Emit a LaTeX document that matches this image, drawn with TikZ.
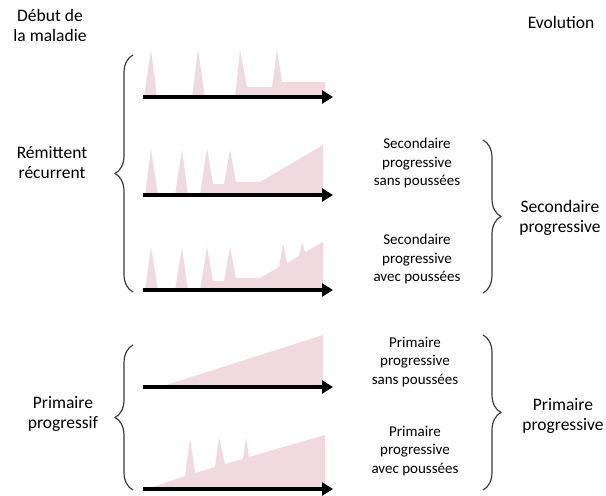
\documentclass[tikz,border=0pt]{standalone}
\usepackage{fontspec}
\setmainfont{Carlito}
\usetikzlibrary{arrows.meta,decorations.pathreplacing}
\definecolor{pinkfill}{RGB}{240,218,224}
\definecolor{bracegray}{RGB}{60,60,60}
\tikzset{
  bigtxt/.style={align=center,font=\fontsize{17.5}{20}\selectfont,inner sep=0pt},
  smalltxt/.style={align=center,font=\fontsize{15}{18.5}\selectfont,inner sep=0pt},
  timeaxis/.style={line width=4pt,-{Triangle[length=11pt,width=13pt]}},
  course/.style={fill=pinkfill,draw=none},
  lbrace/.style={draw=bracegray,line width=1.2pt,decorate,decoration={brace,amplitude=18pt,aspect=0.5}},
}
\begin{document}
\begin{tikzpicture}[x=1pt,y=-1pt]
\useasboundingbox (0,0) rectangle (606,496);
% headers
\node[bigtxt] (debut) at (50,25) {Début de\\la maladie};
\node[bigtxt] (evol) at (561,22) {Evolution};
% left labels
\node[bigtxt] (remit) at (52,163) {Rémittent\\récurrent};
\node[bigtxt] (primf) at (63,414) {Primaire\\progressif};
% middle labels
\node[smalltxt] (secsans) at (417,163) {Secondaire\\progressive\\sans poussées};
\node[smalltxt] (secavec) at (417,259) {Secondaire\\progressive\\avec poussées};
\node[smalltxt] (primsans) at (415,362) {Primaire\\progressive\\sans poussées};
\node[smalltxt] (primavec) at (415,451) {Primaire\\progressive\\avec poussées};
% right labels
\node[bigtxt] (secprog) at (560,218) {Secondaire\\progressive};
\node[bigtxt] (primprog) at (563,416) {Primaire\\progressive};
% braces
\draw[lbrace] (133,292) -- (133,55);
\draw[lbrace] (133,490) -- (133,345);
\draw[lbrace] (483,140) -- (483,293);
\draw[lbrace] (483,335) -- (483,490);
% row 1
\fill[course] (144,97) -- (151,50) -- (157,97) -- cycle;
\fill[course] (192,97) -- (198,50) -- (205,97) -- cycle;
\fill[course] (235,97) -- (240,50) -- (247,87) -- (272,87) -- (277,50) -- (282,82) -- (325,82) -- (325,97) -- cycle;
\draw[timeaxis] (143,97) -- (333,97);
% row 2
\fill[course] (145,195) -- (151,149) -- (158,195) -- cycle;
\fill[course] (175,195) -- (182,149) -- (188,195) -- cycle;
\fill[course] (200,195) -- (207,148) -- (213,184) -- (224,184) -- (230,150) -- (236,182) -- (260,182) -- (323,145) -- (323,195) -- cycle;
\draw[timeaxis] (143,195) -- (333,195);
% row 3
\fill[course] (145,290) -- (151,247) -- (158,290) -- cycle;
\fill[course] (175,290) -- (182,247) -- (188,290) -- cycle;
\fill[course] (200,290) -- (207,247) -- (213,281) -- (224,281) -- (230,247) -- (236,278) -- (260,278) -- (279,267) -- (283,243) -- (287,263) -- (299,256) -- (302,242) -- (305,252) -- (323,242) -- (323,290) -- cycle;
\draw[timeaxis] (143,290) -- (333,290);
% row 4
\fill[course] (160,387) -- (323,335) -- (323,387) -- cycle;
\draw[timeaxis] (143,387) -- (333,387);
% row 5
\fill[course] (147,489) -- (185,476) -- (190,438) -- (195,473) -- (215,467) -- (219,437) -- (225,464) -- (243,459) -- (246,437) -- (249,457) -- (325,435) -- (325,489) -- cycle;
\draw[timeaxis] (143,489) -- (333,489);
\end{tikzpicture}
\end{document}
